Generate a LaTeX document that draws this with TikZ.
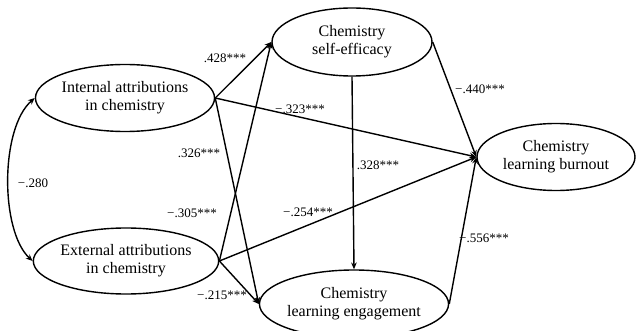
\documentclass[tikz,border=0pt]{standalone}
\usepackage{fontspec}
\setmainfont{Liberation Serif}
\usetikzlibrary{shapes.geometric,arrows.meta}
\tikzset{
  latent/.style={draw, ellipse, line width=0.7pt, inner sep=0pt, align=center,
    font=\fontsize{8}{9}\selectfont},
  coef/.style={font=\fontsize{6.5}{8}\selectfont, inner sep=0pt},
  path/.style={line width=0.7pt, -{Stealth[length=3.4pt,width=2.8pt]}},
}
\begin{document}
\begin{tikzpicture}[x=0.5pt,y=-0.5pt]
\useasboundingbox (0,0) rectangle (636,331);
\node[latent, minimum width=80pt, minimum height=33.5pt] (int) at (125,98) {Internal attributions\\in chemistry};
\node[latent, minimum width=81pt, minimum height=33pt] (ext) at (126,261) {External attributions\\in chemistry};
\node[latent, minimum width=80pt, minimum height=34pt] (se) at (352,42) {Chemistry\\self-efficacy};
\node[latent, minimum width=79pt, minimum height=33.5pt] (burn) at (556,157) {Chemistry\\learning burnout};
\node[latent, minimum width=81pt, minimum height=34pt] (eng) at (354,304) {Chemistry\\learning engagement};

\draw[path] (int.east) -- (se.west);
\draw[path] (ext.east) -- (se.west);
\draw[path] (int.east) -- (eng.west);
\draw[path] (ext.east) -- (eng.west);
\draw[path] (int.east) -- (burn.west);
\draw[path] (ext.east) -- (burn.west);
\draw[path] (se.south) -- (eng.north);
\draw[path] (se.east) -- (burn.west);
\draw[path] (eng.east) -- (burn.west);
\draw[line width=0.7pt, {Stealth[length=3.4pt,width=2.8pt]}-{Stealth[length=3.4pt,width=2.8pt]}]
  (int.west) .. controls (0,128) and (0,231) .. (ext.west);

\node[coef] (c1) at (225,58) {.428***};
\node[coef] (c2) at (300,109) {−.323***};
\node[coef] (c3) at (199,153) {.326***};
\node[coef] (c4) at (192,213) {−.305***};
\node[coef] (c5) at (33,183) {−.280};
\node[coef] (c6) at (308,212) {−.254***};
\node[coef] (c7) at (222,295) {−.215***};
\node[coef] (c8) at (378,165) {.328***};
\node[coef] (c9) at (480,89) {−.440***};
\node[coef] (c10) at (484,238) {−.556***};
\end{tikzpicture}
\end{document}
